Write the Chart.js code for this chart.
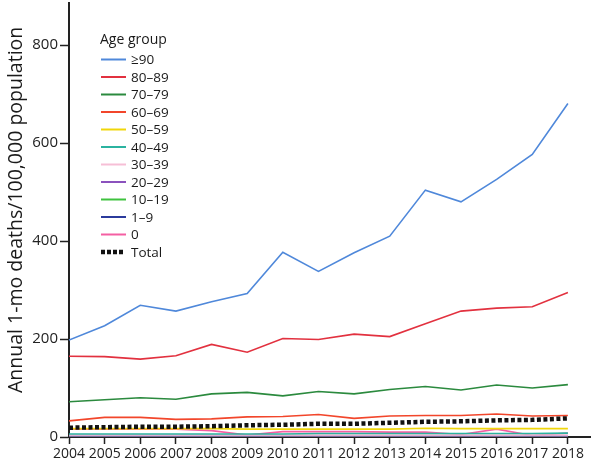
<!DOCTYPE html>
<html>
<head>
<meta charset="utf-8">
<script src="https://cdn.jsdelivr.net/npm/chart.js@4"></script>
<style>
html,body{margin:0;padding:0;background:#fff}
#wrap{width:600px;height:471px;position:relative}
</style>
</head>
<body>
<div id="wrap"><canvas id="c"></canvas></div>
<script>
// years and rates (deaths per 100,000)
let years=[2004,2005,2006,2007,2008,2009,2010,2011,2012,2013,2014,2015,2016,2017,2018]
let yTicks=[0,200,400,600,800]
let ge90=[198,227,269,257,276,293,377,338,376,410,504,480,526,577,681]
let a80=[165,164,159,166,189,173,201,199,210,205,231,257,263,266,295]
let a70=[72,76,80,77,88,91,84,93,88,97,103,96,106,100,107]
let a60=[33,40,40,36,37,41,42,46,38,43,44,44,47,43,44]
let a50=[17,17,17,17,17,16,16,16,16,16,18,17,17,17,17]
let a40=[6,6,6,6,6,6,6,7,7,7,7,7,7,7,8]
let a30=[4,4,4,4,4,4,4,4,4,4,4,4,4,4,4]
let a20=[2,2,2,2,2,2,2,2,2,2,2,2,2,2,2]
let a10=[1,1,1,1,1,1,1,1,1,1,1,1,1,1,1]
let a1=[0.5,0.5,0.5,0.5,0.5,0.5,0.5,0.5,0.5,0.5,0.5,0.5,0.5,0.5,0.5]
let a0=[16,16,16,16,13,4,11,11,11,10,10,5,16,3,8]
let total=[19,20,21,21,22,24,25,27,27,29,31,32,34,35,38]

let groups=["≥90","80–89","70–79","60–69","50–59","40–49","30–39","20–29","10–19","1–9","0","Total"]
let series=[ge90,a80,a70,a60,a50,a40,a30,a20,a10,a1,a0,total]
let colors=["#4f88da","#e2313f","#2b8a3e","#f2462b","#f0d60a","#2bb3a0","#f6bfd6","#8b52bd","#3fc23f","#2b3b9c","#f45fa3","#111111"]

function pts(arr){
return arr.map((v,i)=>({x:years[i],y:v}))
}

let datasets=series.map((s,i)=>{
let isTotal=groups[i]=="Total"
return {
label:groups[i],
data:pts(s),
borderColor:colors[i],
backgroundColor:colors[i],
borderWidth:isTotal?4.5:1.6,
borderDash:isTotal?[4,2.5]:[],
pointRadius:0,
tension:0,
order:isTotal?-1:i
}
})

// legend in the upper left of the plot
let legendPlugin={
id:"ageLegend",
afterDraw(chart){
let ctx=chart.ctx
ctx.save()
ctx.fillStyle="#1a1a1a"
ctx.font="14px 'Open Sans', sans-serif"
ctx.textBaseline="middle"
ctx.fillText("Age group",100,40)
ctx.font="13.5px 'Open Sans', sans-serif"
chart.data.datasets.forEach((ds,i)=>{
let y=59.5+i*17.5
ctx.strokeStyle=ds.borderColor
ctx.lineWidth=ds.label=="Total"?4.5:2
ctx.setLineDash(ds.label=="Total"?[4,2]:[])
ctx.beginPath()
ctx.moveTo(101,y)
ctx.lineTo(ds.label=="Total"?124:126,y)
ctx.stroke()
ctx.setLineDash([])
ctx.fillText(ds.label,131,y+1)
})
ctx.restore()
}
}

new Chart(document.getElementById("c"),{
type:"line",
data:{datasets:datasets},
plugins:[legendPlugin],
options:{
responsive:true,
maintainAspectRatio:false,
animation:false,
layout:{padding:{top:3,right:10,left:0,bottom:0}},
plugins:{legend:{display:false},tooltip:{enabled:false}},
scales:{
x:{
type:"linear",
min:2004,
max:2018.62,
afterFit(scale){scale.height=34},
grid:{drawOnChartArea:false,color:"#222",tickLength:7,tickWidth:1.5},
border:{color:"#222",width:2},
ticks:{
stepSize:1,
includeBounds:false,
autoSkip:false,
maxRotation:0,
color:"#222",
padding:2,
font:{family:"'Open Sans', sans-serif",size:14},
callback:v=>Number.isInteger(v)?String(v):""
}
},
y:{
min:0,
max:886,
afterFit(scale){scale.width=69;scale.paddingTop=0;scale.paddingBottom=0},
afterBuildTicks(scale){scale.ticks=yTicks.map(v=>({value:v}))},
grid:{drawOnChartArea:false,color:"#222",tickLength:9,tickWidth:1.5},
border:{color:"#222",width:2},
ticks:{
color:"#222",
padding:2,
font:{family:"'Open Sans', sans-serif",size:15}
},
title:{
display:true,
text:"    Annual 1-mo deaths/100,000 population",
color:"#1a1a1a",
padding:{top:5,bottom:0},
font:{family:"'Open Sans', sans-serif",size:19.5}
}
}
}
}
})
</script>
</body>
</html>
